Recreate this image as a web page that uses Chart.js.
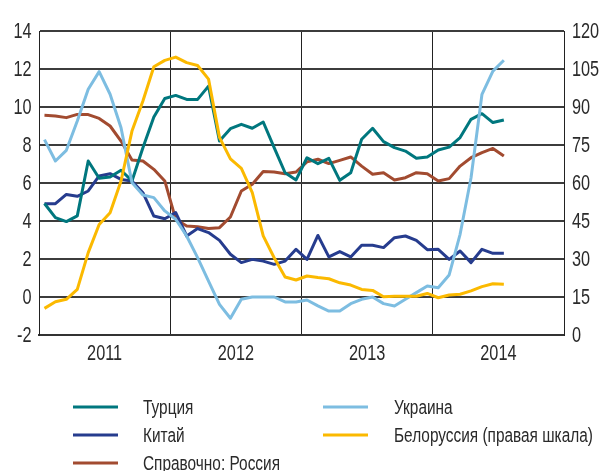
<!DOCTYPE html>
<html>
<head>
<meta charset="utf-8">
<script src="https://cdn.jsdelivr.net/npm/chart.js@4.4.1/dist/chart.umd.min.js"></script>
<style>
  html, body { margin: 0; padding: 0; background: #ffffff; }
  #wrap { position: relative; width: 602px; height: 471px; overflow: hidden; }
  canvas { display: block; }
</style>
</head>
<body>
<div id="wrap"><canvas id="c" width="602" height="471"></canvas></div>
<script>
// ---- Data (monthly, Jan 2011 – Jul 2014) ----
const years = ['2011', '2012', '2013', '2014'];
const leftTicks = [-2, 0, 2, 4, 6, 8, 10, 12, 14];
const rightTicks = [0, 15, 30, 45, 60, 75, 90, 105, 120];

const seriesNames = ['Турция', 'Китай', 'Справочно: Россия', 'Украина', 'Белоруссия (правая шкала)'];

const turkey = [4.92, 4.18, 3.97, 4.27, 7.16, 6.25, 6.32, 6.67, 6.11, 7.86, 9.47, 10.45,
                10.61, 10.4, 10.4, 11.1, 8.21, 8.86, 9.09, 8.88, 9.21, 7.86, 6.54, 6.16,
                7.33, 7.02, 7.30, 6.14, 6.54, 8.30, 8.88, 8.18, 7.86, 7.68, 7.30, 7.37,
                7.74, 7.89, 8.39, 9.35, 9.65, 9.18, 9.32];
const china = [4.91, 4.91, 5.40, 5.30, 5.58, 6.37, 6.49, 6.19, 6.11, 5.49, 4.26, 4.12,
               4.44, 3.21, 3.60, 3.39, 2.98, 2.25, 1.81, 1.98, 1.89, 1.72, 1.89, 2.51,
               1.98, 3.24, 2.11, 2.39, 2.11, 2.72, 2.72, 2.60, 3.12, 3.21, 2.98, 2.49,
               2.51, 1.98, 2.42, 1.81, 2.51, 2.30, 2.30];
const russia = [9.56, 9.53, 9.44, 9.61, 9.60, 9.40, 9.00, 8.21, 7.21, 7.16, 6.72, 6.11,
                4.09, 3.74, 3.70, 3.61, 3.65, 4.21, 5.58, 5.93, 6.60, 6.58, 6.49, 6.58,
                7.11, 7.25, 7.02, 7.19, 7.37, 6.89, 6.46, 6.54, 6.16, 6.28, 6.54, 6.49,
                6.11, 6.23, 6.89, 7.33, 7.60, 7.82, 7.42];
const ukraine = [8.28, 7.16, 7.72, 9.26, 10.93, 11.86, 10.67, 8.91, 6.02, 5.37, 5.23, 4.53,
                 4.09, 3.21, 2.07, 0.84, -0.39, -1.12, -0.12, 0.0, 0.0, 0.0, -0.26, -0.26,
                 -0.16, -0.47, -0.74, -0.74, -0.35, -0.12, 0.0, -0.35, -0.47, -0.12, 0.23, 0.58,
                 0.49, 1.16, 3.30, 6.28, 10.67, 11.89, 12.46];
const belarus = [10.5, 13.1, 14.1, 18.0, 32.5, 43.6, 48.3, 60.8, 80.5, 92.4, 105.9, 108.4,
                 109.7, 107.5, 106.4, 101.0, 78.0, 69.5, 65.8, 56.2, 39.1, 30.5, 22.9, 21.7,
                 23.3, 22.7, 22.2, 20.6, 19.7, 18.0, 17.6, 15.1, 15.3, 15.3, 15.3, 16.4,
                 14.7, 15.8, 16.1, 17.4, 19.1, 20.2, 20.0];

// ---- Styling ----
const colors = ['#00777e', '#263c8e', '#a24b30', '#7dbde1', '#fbb900'];
const FONT = '"Liberation Sans", Arial, sans-serif';
const SQUEEZE = 0.74;          // condensed look of the original typeface
const TEXT_COLOR = '#2a2a2a';

function pts(arr) { return arr.map((v, i) => ({ x: i + 0.5, y: v })); }

const allSeries = [turkey, china, russia, ukraine, belarus];
const drawOrder = [2, 3, 4, 1, 0];
const datasets = allSeries.map((arr, k) => ({
  label: seriesNames[k],
  data: pts(arr),
  borderColor: colors[k],
  backgroundColor: colors[k],
  borderWidth: 3,
  pointRadius: 0,
  tension: 0,
  fill: false,
  borderJoinStyle: 'round',
  yAxisID: k === 4 ? 'y1' : 'y',
  order: drawOrder[k]
}));

function squeezedText(ctx, text, x, y, align, size, sx) {
  ctx.save();
  ctx.font = size + 'px ' + FONT;
  ctx.fillStyle = TEXT_COLOR;
  ctx.textBaseline = 'middle';
  ctx.textAlign = align;
  ctx.translate(x, y);
  ctx.scale(sx, 1);
  ctx.fillText(text, 0, 0);
  ctx.restore();
}

// Tick labels drawn in a condensed face, positioned by the chart's own scales
const tickLabelPlugin = {
  id: 'tickLabels',
  afterDraw(chart) {
    const ctx = chart.ctx;
    const { x, y, y1 } = chart.scales;
    const area = chart.chartArea;
    leftTicks.forEach(v => {
      squeezedText(ctx, String(v), area.left - 7.5, y.getPixelForValue(v) + 1, 'right', 22, SQUEEZE);
    });
    rightTicks.forEach(v => {
      squeezedText(ctx, String(v), area.right + 8, y1.getPixelForValue(v) + 1, 'left', 22, SQUEEZE);
    });
    years.forEach((yr, k) => {
      squeezedText(ctx, yr, x.getPixelForValue(k * 12 + 6), area.bottom + 19, 'center', 22, SQUEEZE);
    });
  }
};

// Custom two-column legend
const legendPos = [
  { lx: 73, tx: 143, y: 407 },
  { lx: 73, tx: 143, y: 435 },
  { lx: 73, tx: 143, y: 463 },
  { lx: 323, tx: 394, y: 407 },
  { lx: 323, tx: 394, y: 435 }
];
const legendPlugin = {
  id: 'customLegend',
  afterDraw(chart) {
    const ctx = chart.ctx;
    chart.data.datasets.forEach((ds, k) => {
      const p = legendPos[k];
      ctx.save();
      ctx.strokeStyle = ds.borderColor;
      ctx.lineWidth = 3;
      ctx.beginPath();
      ctx.moveTo(p.lx, p.y);
      ctx.lineTo(p.lx + 45, p.y);
      ctx.stroke();
      ctx.restore();
      squeezedText(ctx, ds.label, p.tx, p.y + 1, 'left', 20, 0.77);
    });
  }
};

new Chart(document.getElementById('c'), {
  type: 'line',
  data: { datasets },
  plugins: [tickLabelPlugin, legendPlugin],
  options: {
    responsive: false,
    animation: false,
    events: [],
    layout: { padding: { top: 31, bottom: 96, left: 0, right: 0 } },
    plugins: { legend: { display: false }, tooltip: { enabled: false }, title: { display: false } },
    scales: {
      x: {
        type: 'linear',
        min: 0,
        max: 48,
        afterBuildTicks(axis) {
          const t = [];
          for (let v = 0; v <= 48; v += 12) t.push({ value: v });
          axis.ticks = t;
        },
        afterFit(scale) { scale.height = 40; },
        grid: { color: '#222222', lineWidth: 1, drawTicks: false },
        border: { display: true, color: '#333333', width: 2 },
        ticks: { display: false }
      },
      y: {
        position: 'left',
        min: -2,
        max: 14,
        afterBuildTicks(axis) { axis.ticks = leftTicks.map(v => ({ value: v })); },
        afterFit(scale) { scale.width = 39; },
        grid: { color: '#3c3c3c', lineWidth: 2, drawTicks: false },
        border: { display: true, color: '#222222', width: 1 },
        ticks: { display: false }
      },
      y1: {
        position: 'right',
        min: 0,
        max: 120,
        afterBuildTicks(axis) { axis.ticks = rightTicks.map(v => ({ value: v })); },
        afterFit(scale) { scale.width = 38; },
        grid: { display: false, drawTicks: false },
        border: { display: true, color: '#222222', width: 1 },
        ticks: { display: false }
      }
    }
  }
});
</script>
</body>
</html>
